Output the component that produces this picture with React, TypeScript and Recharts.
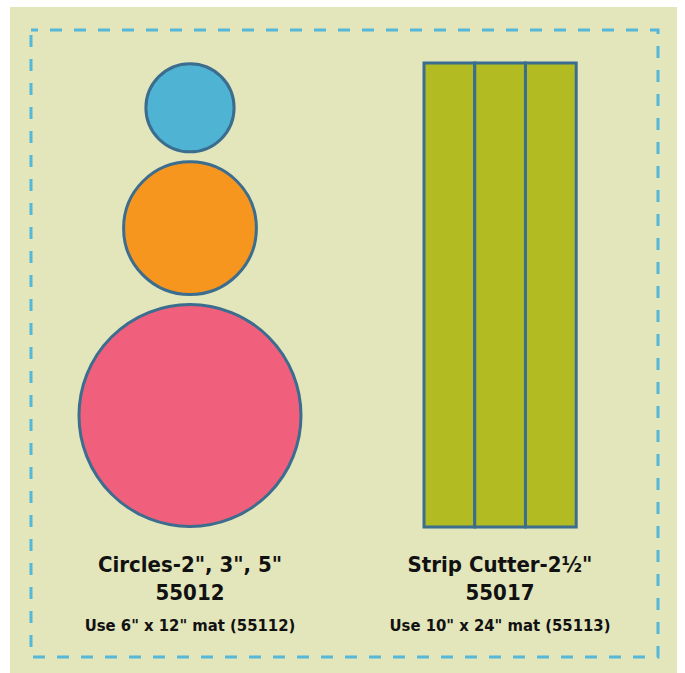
import React from 'react'
import { ComposedChart, Scatter, XAxis, YAxis, ReferenceArea } from 'recharts'

// circle cutter sizes, bottom of the stack first (inches)
const circleDiameters = [5, 3, 2]
const circleColors = ['#f0607c', '#f7961f', '#4fb3d3']

// strip cutter: three 2½" strips
const stripWidths = [2.5, 2.5, 2.5]
const stripColor = '#b2bb22'

const leftLabels = ['Circles-2", 3", 5"', '55012', 'Use 6" x 12" mat (55112)']
const rightLabels = ['Strip Cutter-2½"', '55017', 'Use 10" x 24" mat (55113)']

const W = 685
const H = 673
const PX_PER_IN = 44.6
const GAP = 0.2
const BASE_Y = 11.816
const CIRCLE_X = 4.26
const STRIP_X = 9.507
const STRIP_TOP = 1.413
const STRIP_SCALE = 0.455
const EDGE = '#3b6d8f'
const FONT = "'Liberation Sans Narrow', 'DejaVu Sans Condensed', sans-serif"

// stack circles bottom-up
const circlePoints: { x: number; y: number; d: number; fill: string }[] = []
let top = BASE_Y
circleDiameters.forEach((d, i) => {
  circlePoints.push({ x: CIRCLE_X, y: top - d / 2, d, fill: circleColors[i] })
  top = top - d - GAP
})

const strips: { x1: number; x2: number }[] = []
let sx = STRIP_X
stripWidths.forEach(w => {
  strips.push({ x1: sx, x2: sx + w * STRIP_SCALE })
  sx += w * STRIP_SCALE
})

const CircleShape = (props: any) => (
  <circle
    cx={props.cx}
    cy={props.cy}
    r={(props.payload.d / 2) * PX_PER_IN - 0.5}
    fill={props.payload.fill}
    stroke={EDGE}
    strokeWidth={3}
  />
)

function Labels({ lines, cx }: { lines: string[]; cx: number }) {
  return (
    <g fontFamily={FONT} fontWeight="bold" fill="#111" textAnchor="middle">
      <text x={cx} y={572} fontSize={22}>{lines[0]}</text>
      <text x={cx} y={600} fontSize={22}>{lines[1]}</text>
      <text x={cx} y={631} fontSize={16.5}>{lines[2]}</text>
    </g>
  )
}

export default function App() {
  return (
    <div style={{ position: 'absolute', left: 0, top: 0, width: W, height: H }}>
      <svg width={W} height={H} style={{ position: 'absolute', left: 0, top: 0 }}>
        <rect x={10} y={7} width={667} height={666} fill="#e3e5bb" />
        <rect
          x={31}
          y={30}
          width={627}
          height={627}
          fill="none"
          stroke="#55b8d8"
          strokeWidth={3}
          strokeDasharray="12 12"
          strokeDashoffset={5}
        />
      </svg>
      <div style={{ position: 'absolute', left: 0, top: 0 }}>
        <ComposedChart width={W} height={H} margin={{ top: 0, right: 0, bottom: 0, left: 0 }}>
          <XAxis type="number" dataKey="x" domain={[0, W / PX_PER_IN]} hide allowDataOverflow />
          <YAxis type="number" dataKey="y" domain={[0, H / PX_PER_IN]} reversed hide allowDataOverflow />
          {strips.map((s, i) => (
            <ReferenceArea
              key={i}
              x1={s.x1}
              x2={s.x2}
              y1={STRIP_TOP}
              y2={BASE_Y}
              fill={stripColor}
              fillOpacity={1}
              stroke={EDGE}
              strokeWidth={3}
              ifOverflow="visible"
            />
          ))}
          <Scatter data={circlePoints} shape={CircleShape} isAnimationActive={false} />
        </ComposedChart>
      </div>
      <svg width={W} height={H} style={{ position: 'absolute', left: 0, top: 0, pointerEvents: 'none' }}>
        <Labels lines={leftLabels} cx={190} />
        <Labels lines={rightLabels} cx={500} />
      </svg>
    </div>
  )
}
